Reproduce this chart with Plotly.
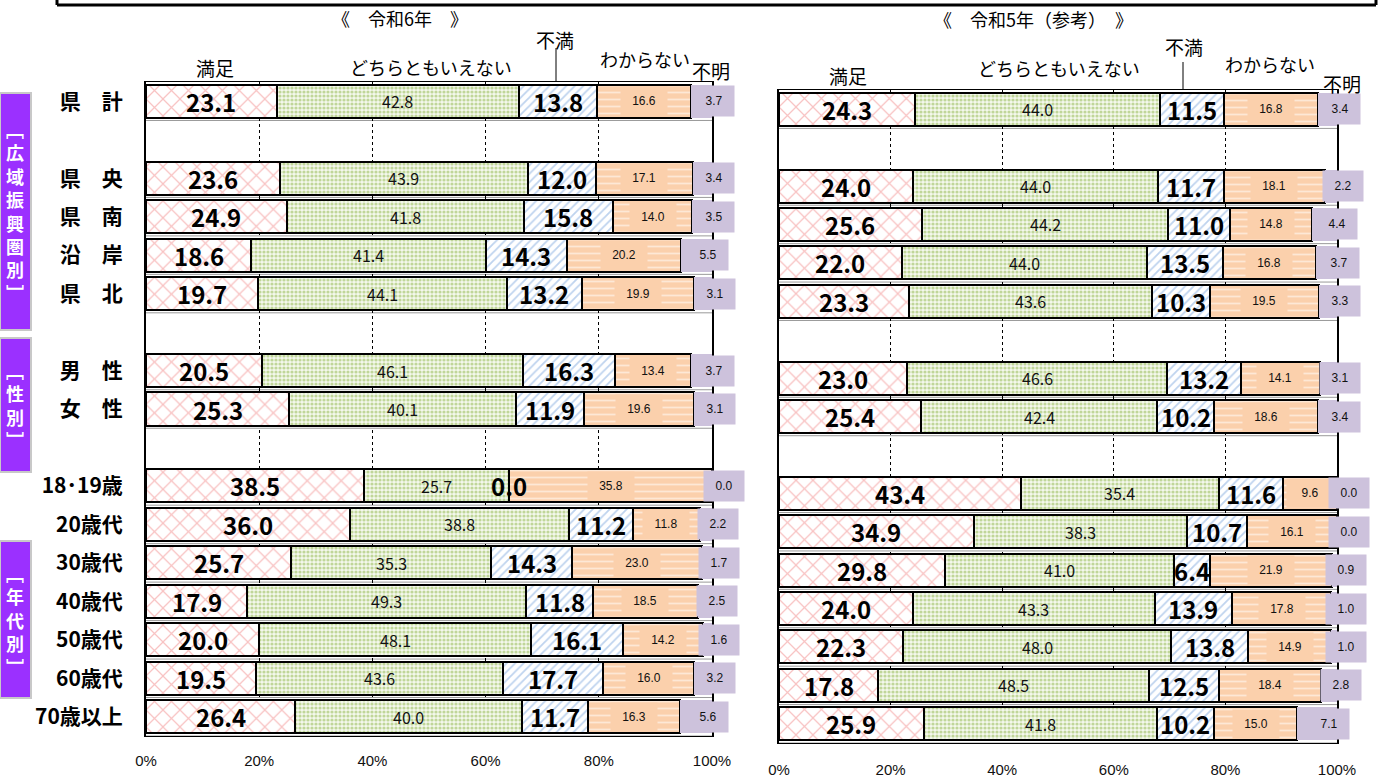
import plotly.graph_objects as go

W, H = 1380, 778

rows = ["県　計", "", "県　央", "県　南", "沿　岸", "県　北", "", "男　性", "女　性", "",
        "18･19歳", "20歳代", "30歳代", "40歳代", "50歳代", "60歳代", "70歳以上"]
series = ["満足", "どちらともいえない", "不満", "わからない", "不明"]
tick_vals = [0, 20, 40, 60, 80, 100]
tick_text = ["0%", "20%", "40%", "60%", "80%", "100%"]

# 令和6年
r6_manzoku = [23.1, None, 23.6, 24.9, 18.6, 19.7, None, 20.5, 25.3, None, 38.5, 36.0, 25.7, 17.9, 20.0, 19.5, 26.4]
r6_dochira = [42.8, None, 43.9, 41.8, 41.4, 44.1, None, 46.1, 40.1, None, 25.7, 38.8, 35.3, 49.3, 48.1, 43.6, 40.0]
r6_fuman = [13.8, None, 12.0, 15.8, 14.3, 13.2, None, 16.3, 11.9, None, 0.0, 11.2, 14.3, 11.8, 16.1, 17.7, 11.7]
r6_wakaranai = [16.6, None, 17.1, 14.0, 20.2, 19.9, None, 13.4, 19.6, None, 35.8, 11.8, 23.0, 18.5, 14.2, 16.0, 16.3]
r6_fumei = [3.7, None, 3.4, 3.5, 5.5, 3.1, None, 3.7, 3.1, None, 0.0, 2.2, 1.7, 2.5, 1.6, 3.2, 5.6]

# 令和5年（参考）
r5_manzoku = [24.3, None, 24.0, 25.6, 22.0, 23.3, None, 23.0, 25.4, None, 43.4, 34.9, 29.8, 24.0, 22.3, 17.8, 25.9]
r5_dochira = [44.0, None, 44.0, 44.2, 44.0, 43.6, None, 46.6, 42.4, None, 35.4, 38.3, 41.0, 43.3, 48.0, 48.5, 41.8]
r5_fuman = [11.5, None, 11.7, 11.0, 13.5, 10.3, None, 13.2, 10.2, None, 11.6, 10.7, 6.4, 13.9, 13.8, 12.5, 10.2]
r5_wakaranai = [16.8, None, 18.1, 14.8, 16.8, 19.5, None, 14.1, 18.6, None, 9.6, 16.1, 21.9, 17.8, 14.9, 18.4, 15.0]
r5_fumei = [3.4, None, 2.2, 4.4, 3.7, 3.3, None, 3.1, 3.4, None, 0.0, 0.0, 0.9, 1.0, 1.0, 2.8, 7.1]

JP = "Noto Sans CJK JP"
LAT = "Liberation Sans"

styles = [
    dict(pattern=dict(shape="x", fgcolor="#f28888", bgcolor="#ffffff", size=12, solidity=0.2), line=2),
    dict(pattern=dict(shape=".", fgcolor="#8cb445", bgcolor="#f4f8ec", size=4, solidity=0.5), line=2),
    dict(pattern=dict(shape="/", fgcolor="#7ea7de", bgcolor="#ffffff", size=6, solidity=0.3), line=2),
    dict(pattern=dict(shape="-", fgcolor="#ffffff", bgcolor="#fbd0ac", size=7, solidity=0.25), line=2),
    dict(color="#cdc2dc", line=0),
]

label_fonts = [
    dict(family=JP, size=24, color="#000000", weight="bold"),
    dict(family=JP, size=16, color="#111111"),
    dict(family=JP, size=24, color="#000000", weight="bold"),
    dict(family=LAT, size=12, color="#111111"),
    dict(family=LAT, size=12, color="#111111"),
]

def px(x):
    return x / W

def py(y):
    return 1 - y / H

fig = go.Figure()
annotations = []
idx = list(range(len(rows)))

panels = [
    ("x", "y", [r6_manzoku, r6_dochira, r6_fuman, r6_wakaranai, r6_fumei]),
    ("x2", "y2", [r5_manzoku, r5_dochira, r5_fuman, r5_wakaranai, r5_fumei]),
]

for xa, ya, data in panels:
    for s, (name, vals) in enumerate(zip(series, data)):
        st = styles[s]
        if "pattern" in st:
            marker = dict(color=st["pattern"]["bgcolor"], pattern=st["pattern"],
                          line=dict(color="#000000", width=st["line"]))
        else:
            marker = dict(color=st["color"], line=dict(width=0))
        fig.add_trace(go.Bar(
            x=vals, y=idx, orientation="h", name=name, marker=marker,
            width=0.86, xaxis=xa, yaxis=ya, showlegend=False, hoverinfo="skip",
        ))
    # labels
    for i in idx:
        if data[0][i] is None:
            continue
        start = 0.0
        for s in range(5):
            v = data[s][i]
            c = start + v / 2
            a = dict(x=c, y=i, xref=xa, yref=ya, text=f"{v:.1f}", showarrow=False,
                     font=label_fonts[s], xanchor="center", yanchor="middle")
            if s == 3:
                a.update(bgcolor="#fbd0ac", width=44, height=26)
            if s == 4:
                a.update(bgcolor="#cdc2dc", width=38, height=28, xshift=12)
            annotations.append(a)
            start += v
    # row separator lines
    for i in idx:
        if data[0][i] is None:
            continue
        fig.add_shape(type="line", xref=xa, yref=ya, x0=0, x1=100, y0=i + 0.5, y1=i + 0.5,
                      line=dict(color="#9a9a9a", width=1), layer="below")

ticked = [i for i in idx if rows[i]]

axis_common = dict(range=[0, 100], tickvals=tick_vals, ticktext=tick_text,
                   showgrid=True, gridcolor="#000000", griddash="3px,3px", gridwidth=1,
                   showline=True, linecolor="#000000", linewidth=1, mirror=True,
                   ticks="", zeroline=False, automargin=False,
                   tickfont=dict(family=LAT, size=15, color="#111111"),
                   fixedrange=True)

fig.update_layout(
    width=W, height=H, margin=dict(l=0, r=0, t=0, b=0, pad=0, autoexpand=False), autosize=False,
    paper_bgcolor="#ffffff", plot_bgcolor="rgba(0,0,0,0)",
    barmode="stack", bargap=0.14,
    xaxis=dict(domain=[px(146), px(712)], anchor="y", ticklabelstandoff=11, **axis_common),
    yaxis=dict(domain=[py(736), py(82)], range=[16.5, -0.5], tickvals=ticked,
               ticktext=[rows[i] for i in ticked], showgrid=False, zeroline=False,
               showline=True, linecolor="#000000", linewidth=2, mirror=True, ticks="",
               ticklabelstandoff=17, anchor="x", fixedrange=True, automargin=False,
               tickfont=dict(family=JP, size=21, color="#000000", weight="bold")),
    xaxis2=dict(domain=[px(779), px(1337)], anchor="y2", ticklabelstandoff=13, **axis_common),
    yaxis2=dict(domain=[py(743), py(90)], range=[16.5, -0.5], showticklabels=False,
                showgrid=False, zeroline=False, showline=True, linecolor="#000000",
                linewidth=2, mirror=True, ticks="", anchor="x2", fixedrange=True, automargin=False),
)

hdr = dict(family=JP, size=19, color="#000000")
def ptxt(text, x, y, font=hdr):
    annotations.append(dict(text=text, x=px(x), y=py(y), xref="paper", yref="paper",
                            showarrow=False, font=font, xanchor="center", yanchor="middle"))

# titles
ptxt("《　令和6年　》", 400, 18, dict(family=JP, size=18, color="#000000"))
ptxt("《　令和5年（参考）　》", 1033, 19, dict(family=JP, size=18, color="#000000"))
# series headers left
ptxt("満足", 215, 67)
ptxt("どちらともいえない", 431, 67, dict(family=JP, size=18, color="#000000"))
ptxt("不満", 555, 40)
ptxt("わからない", 645, 59, dict(family=JP, size=18, color="#000000"))
ptxt("不明", 711, 70)
# series headers right
ptxt("満足", 848, 75)
ptxt("どちらともいえない", 1059, 68, dict(family=JP, size=18, color="#000000"))
ptxt("不満", 1184, 47)
ptxt("わからない", 1270, 64, dict(family=JP, size=18, color="#000000"))
ptxt("不明", 1342, 83)

# leader lines for 不満
for (x, y0, y1) in [(556, 48, 82), (1183, 62, 90)]:
    fig.add_shape(type="line", xref="paper", yref="paper", x0=px(x), x1=px(x), y0=py(y0), y1=py(y1),
                  line=dict(color="#000000", width=1))

# top frame
fig.add_shape(type="line", xref="paper", yref="paper", x0=px(57), x1=px(1376), y0=py(5), y1=py(5),
              line=dict(color="#000000", width=3))
for x in (57, 1376):
    fig.add_shape(type="line", xref="paper", yref="paper", x0=px(x), x1=px(x), y0=py(0), y1=py(5),
                  line=dict(color="#000000", width=3))

# purple group boxes
groups = [
    ("﹇<br>広<br>域<br>振<br>興<br>圏<br>別<br>﹈", 93, 330),
    ("﹇<br>性<br>別<br>﹈", 338, 472),
    ("﹇<br>年<br>代<br>別<br>﹈", 541, 698),
]
for text, y0, y1 in groups:
    fig.add_shape(type="rect", xref="paper", yref="paper", x0=px(0), x1=px(31), y0=py(y1), y1=py(y0),
                  fillcolor="#9b30ff", line=dict(color="#c8c8c8", width=2))
    annotations.append(dict(text=text, x=px(15), y=py((y0 + y1) / 2), xref="paper", yref="paper",
                            showarrow=False, font=dict(family=JP, size=18, color="#ffffff", weight="bold"),
                            xanchor="center", yanchor="middle"))

fig.update_layout(annotations=annotations)
fig.write_html(
    "out.html",
    config={"displayModeBar": False, "responsive": False},
    post_script="document.body.style.margin='0';document.body.style.padding='0';"
                "document.documentElement.style.overflow='hidden';document.body.style.overflow='hidden';",
)
